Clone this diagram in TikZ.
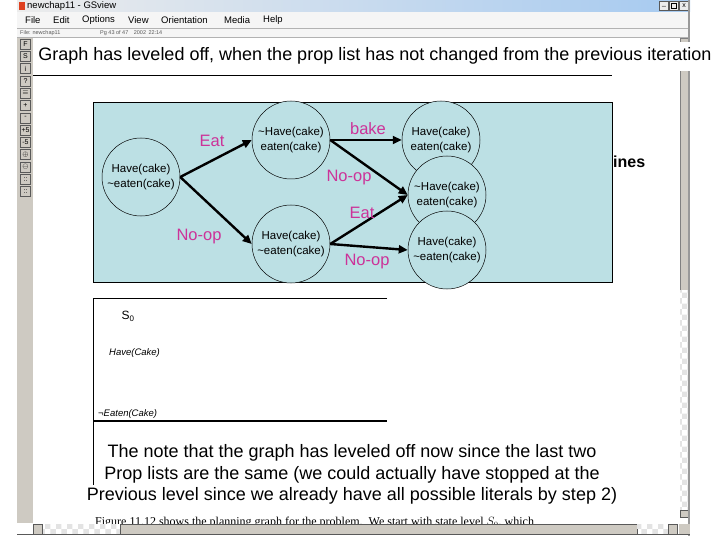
\documentclass[tikz,border=0pt]{standalone}
\usepackage{fontspec}
\setmainfont{Liberation Sans}
\newfontfamily\serifff{Liberation Serif}
\usetikzlibrary{arrows.meta,patterns}
\definecolor{cyanbg}{RGB}{188,224,228}
\definecolor{mag}{RGB}{204,51,153}
\definecolor{wingray}{RGB}{206,202,194}
\definecolor{tbblue}{RGB}{166,202,240}
\tikzset{
  circ/.style={circle,draw=black,line width=0.5pt,fill=cyanbg,minimum size=78pt,inner sep=0pt,align=center,font=\fontsize{11.5}{14.5}\selectfont},
  arr/.style={line width=2.4pt,-{Triangle[length=9pt,width=8pt]}},
  lab/.style={text=mag,font=\fontsize{16.5}{18}\selectfont,inner sep=0pt},
  menu/.style={anchor=west,font=\fontsize{9.5}{11}\selectfont,inner sep=0pt},
  tbtn/.style={draw=gray!70!black,fill=wingray,minimum width=10pt,minimum height=10pt,inner sep=0pt,font=\fontsize{7}{7}\selectfont},
  chk/.style={pattern=checkerboard,pattern color=gray!22},
  big/.style={font=\fontsize{18}{21.5}\selectfont,inner sep=0pt},
}
\begin{document}
\begin{tikzpicture}[x=1pt,y=-1pt]
\useasboundingbox (0,0) rectangle (720,540);
\fill[white] (0,0) rectangle (720,540);
% window chrome
\shade[left color=gray!15,right color=tbblue] (17,0) rectangle (690,12);
\node[menu,font=\fontsize{9.5}{11}\selectfont] (title) at (27,6) {newchap11 - GSview};
\fill[red!50!brown] (19,2) rectangle (25,10);
\node[tbtn,minimum width=9pt,minimum height=9pt,fill=gray!15] (wb0) at (664,6) {\_};
\node[tbtn,minimum width=9pt,minimum height=9pt,fill=gray!15] (wb1) at (674,6) {};
\draw[line width=0.4pt] (671.5,3.5) rectangle (676.5,8.5);
\node[tbtn,minimum width=9pt,minimum height=9pt,fill=gray!15] (wb2) at (684,6) {x};
\fill[gray!8] (17,12) rectangle (690,38);
\node[menu] (m1) at (25,20) {File};
\node[menu] (m2) at (53,20) {Edit};
\node[menu] (m3) at (82,20) {Options};
\node[menu] (m4) at (128,20) {View};
\node[menu] (m5) at (161,20) {Orientation};
\node[menu] (m6) at (224,20) {Media};
\node[menu] (m7) at (263,20) {Help};
\draw[gray!60] (17,28) -- (690,28);
\node[menu,font=\fontsize{5.5}{6}\selectfont,text=gray!70!black] (st1) at (20,33) {File: newchap11};
\node[menu,font=\fontsize{5.5}{6}\selectfont,text=gray!70!black] (st2) at (100,33) {Pg 43 of 47\quad 2002\, 22:14};
\draw[gray!60] (17,37.5) -- (690,37.5);
% left toolbar
\fill[wingray] (17,38) rectangle (33,523);
\foreach \i/\s in {0/F,1/S,2/i,3/?,4/$\equiv$,5/+,6/-,7/+5,8/-5,9/$\oplus$,10/$\ominus$,11/::,12/::} {
  \node[tbtn] (tb\i) at (25.5,44+\i*12.3) {\s};
}
% right scrollbar
\fill[wingray] (680,38) rectangle (688,290);
\draw[gray] (680,38) rectangle (688,290);
\fill[white] (680,290) rectangle (688,510);
\fill[chk] (680,290) rectangle (688,510);
\node[tbtn,minimum width=8pt,minimum height=7pt] (dn) at (684,514) {};
\fill[gray!80] (688,0) rectangle (690,536);
% bottom text (partly hidden)
\node[anchor=west,inner sep=0pt,font=\serifff\fontsize{12}{14}\selectfont] (fig) at (95,523) {Figure 11.12 shows the planning graph for the problem.\ \ We start with state level $S_0$, which};
% bottom scrollbar
\fill[white] (33,524) rectangle (690,534);
\fill[chk] (43,524) rectangle (120,534);
\fill[wingray] (120,524) rectangle (637,534);
\draw[gray!70!black] (120,524) rectangle (637,534);
\fill[chk] (637,524) rectangle (668,534);
\node[tbtn,minimum width=9pt,minimum height=10pt] (lf) at (38,529) {};
\node[tbtn,minimum width=9pt,minimum height=10pt] (rt) at (673,529) {};
\fill[wingray] (679,524) rectangle (690,534);
\draw[gray!70!black] (17,534.5) -- (690,534.5);
% banner
\fill[white] (34,42) rectangle (716,71);
\node[big] (banner) at (375,56) {Graph has leveled off, when the prop list has not changed from the previous iteration};
\draw[line width=0.8pt] (33,75) -- (612,75);
% underlying text fragment
\node[big,anchor=west,font=\bfseries\fontsize{16}{20}\selectfont] (ines) at (613,162) {ines};
% cyan panel
\filldraw[fill=cyanbg,draw=black,line width=0.8pt] (93,102) rectangle (612,282);
\node[circ] (c1) at (141,177) {Have(cake)\\\textasciitilde eaten(cake)};
\node[circ] (c2) at (291,140) {\textasciitilde Have(cake)\\eaten(cake)};
\node[circ] (c3) at (291,244) {Have(cake)\\\textasciitilde eaten(cake)};
\node[circ] (c4) at (441,140) {Have(cake)\\eaten(cake)};
\node[circ] (c5) at (447,195) {\textasciitilde Have(cake)\\eaten(cake)};
\node[circ] (c6) at (447,250) {Have(cake)\\\textasciitilde eaten(cake)};
\draw[arr] (c1.east) -- (c2.west);
\draw[arr] (c1.east) -- (c3.west);
\draw[arr] (c2.east) -- (c4.west);
\draw[arr] (c2.east) -- (c5.west);
\draw[arr] (c3.east) -- (c5.west);
\draw[arr] (c3.east) -- (c6.west);
\node[lab] (l1) at (212,141) {Eat};
\node[lab] (l2) at (199,237) {No-op};
\node[lab] (l3) at (368,129) {bake};
\node[lab] (l4) at (349,178) {No-op};
\node[lab] (l5) at (362,213) {Eat};
\node[lab] (l6) at (367,262) {No-op};
% lower panel
\draw[line width=0.8pt] (387,298) -- (93,298) -- (93,485);
\draw[line width=2.6pt] (93,421) -- (387,421);
\node[inner sep=0pt,font=\fontsize{12}{14}\selectfont] (s0) at (128,316) {S\textsubscript{0}};
\node[anchor=west,inner sep=0pt,font=\itshape\fontsize{9.5}{11}\selectfont] (hv) at (109,353) {Have(Cake)};
\node[anchor=west,inner sep=0pt,font=\fontsize{9.5}{11}\selectfont] (et) at (98,414) {¬\textit{Eaten(Cake)}};
% note
\node[big,align=center] (note) at (352,474.5) {The note that the graph has leveled off now since the last two\\Prop lists are the same (we could actually have stopped at the\\Previous level since we already have all possible literals by step 2)};
\end{tikzpicture}
\end{document}
